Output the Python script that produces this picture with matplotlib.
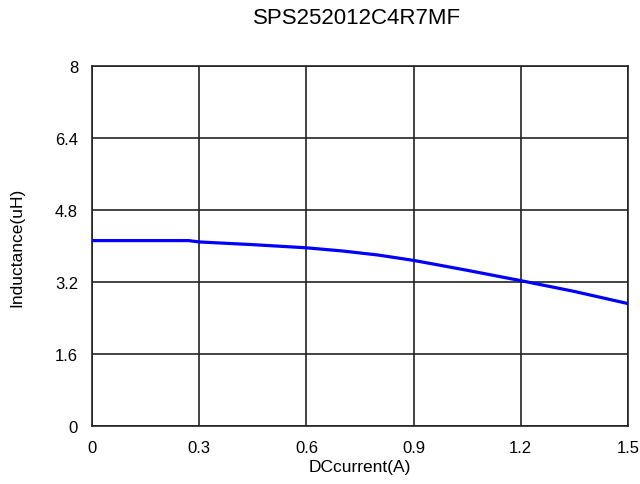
import matplotlib
matplotlib.use("Agg")
import matplotlib.pyplot as plt

title = "SPS252012C4R7MF"
current = [0.0, 0.15, 0.27, 0.30, 0.45, 0.60, 0.70, 0.80, 0.90, 1.05, 1.20, 1.35, 1.50]
inductance = [4.12, 4.12, 4.12, 4.09, 4.03, 3.96, 3.89, 3.80, 3.68, 3.46, 3.23, 2.99, 2.72]
xticks = [0, 0.3, 0.6, 0.9, 1.2, 1.5]
xticklabels = ["0", "0.3", "0.6", "0.9", "1.2", "1.5"]
yticks = [0, 1.6, 3.2, 4.8, 6.4, 8]
yticklabels = ["0", "1.6", "3.2", "4.8", "6.4", "8"]

plt.rcParams['font.family'] = ['Liberation Sans', 'DejaVu Sans']

fig = plt.figure(figsize=(6.4, 4.85), dpi=100)
ax = fig.add_axes([92/640, 58/485, 536/640, 360/485])

ax.plot(current, inductance, color='#0000FF', linewidth=2.3, zorder=3)

ax.set_xlim(0, 1.5)
ax.set_ylim(0, 8)
ax.set_xticks(xticks)
ax.set_xticklabels(xticklabels, fontsize=12)
ax.set_yticks(yticks)
ax.set_yticklabels(yticklabels, fontsize=12)
ax.tick_params(length=0, pad=10)
ax.grid(True, color='#222222', linewidth=1.2)
for s in ax.spines.values():
    s.set_color('#222222')
    s.set_linewidth(1.2)

ax.set_xlabel("DCcurrent(A)", fontsize=12.5, labelpad=3)
ax.set_ylabel("Inductance(uH)", fontsize=12.5, labelpad=22)
fig.text(357/640, 1 - 18/485, title, fontsize=16, ha='center', va='center')

fig.savefig("out.png", dpi=100)
